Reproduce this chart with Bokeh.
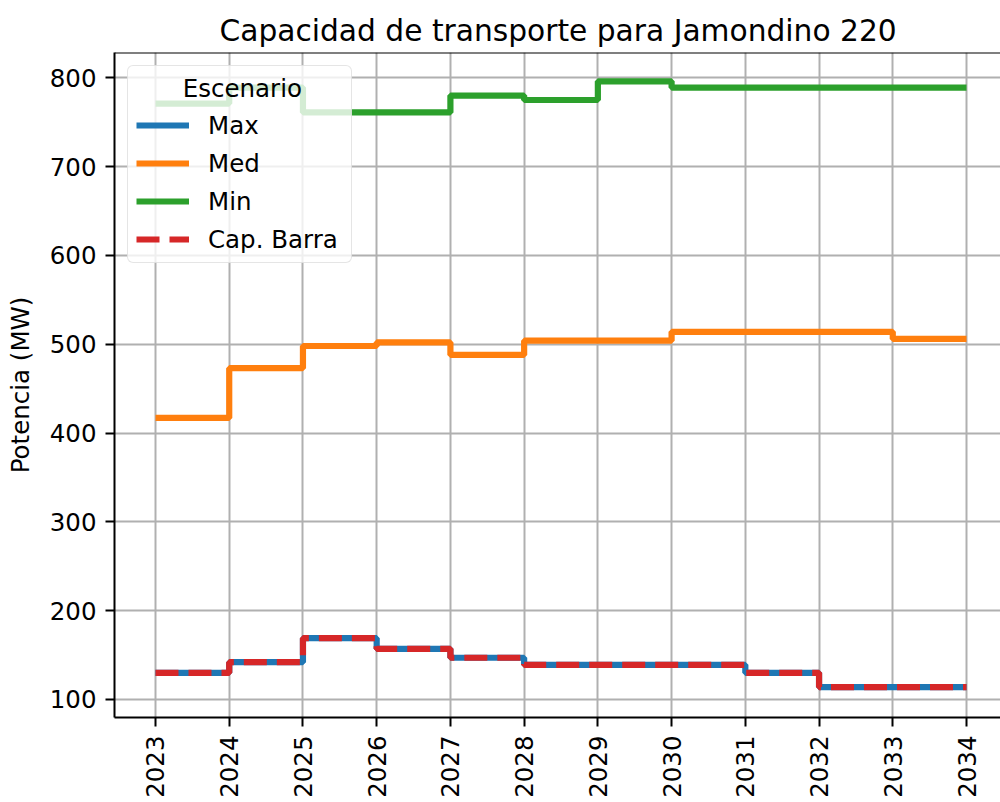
import math
from bokeh.plotting import figure
from bokeh.models import Range1d, FixedTicker, Span, Legend
from bokeh.embed import file_html
from bokeh.resources import INLINE

years = [2023, 2024, 2025, 2026, 2027, 2028, 2029, 2030, 2031, 2032, 2033, 2034]
max_vals = [130, 142, 169, 157, 147, 139, 139, 139, 130, 114, 114, 114]
med_vals = [417, 473, 498, 502, 488, 504, 504, 514, 514, 514, 506, 506]
min_vals = [771, 789, 761, 761, 780, 775, 796, 789, 789, 789, 789, 789]
cap_barra = [130, 142, 169, 157, 147, 139, 139, 139, 130, 114, 114, 114]
y_ticks = [100, 200, 300, 400, 500, 600, 700, 800]

FONT = "DejaVu Sans"
TXT = "#000000"
FS = "24.5px"

p = figure(width=1000, height=802, output_backend="svg", toolbar_location=None,
           x_range=Range1d(2022.444, 2034.461), y_range=Range1d(79.7, 828.5),
           min_border_left=114, min_border_right=0, min_border_top=52, min_border_bottom=85)

p.title.text = "Capacidad de transporte para Jamondino 220"
p.title.align = "left"
p.title.offset = 105
p.title.text_font = FONT
p.title.text_font_size = "29.7px"
p.title.text_font_style = "normal"
p.title.text_color = TXT
p.title.standoff = 10

p.outline_line_color = None
p.background_fill_color = "white"
p.border_fill_color = "white"

for ax in (p.xaxis[0], p.yaxis[0]):
    ax.axis_line_color = "black"
    ax.axis_line_width = 2
    ax.major_tick_line_color = "black"
    ax.major_tick_line_width = 2
    ax.major_tick_out = 9
    ax.major_tick_in = 0
    ax.minor_tick_out = 0
    ax.minor_tick_in = 0
    ax.major_label_text_font = FONT
    ax.major_label_text_font_size = FS
    ax.major_label_text_color = TXT
    ax.major_label_standoff = 9

p.xaxis.ticker = FixedTicker(ticks=years)
p.xaxis.major_label_orientation = math.pi / 2
p.yaxis.ticker = FixedTicker(ticks=y_ticks)
p.yaxis.axis_label = "Potencia (MW)"
p.yaxis.axis_label_text_font = FONT
p.yaxis.axis_label_text_font_size = FS
p.yaxis.axis_label_text_font_style = "normal"
p.yaxis.axis_label_text_color = TXT
p.yaxis.axis_label_standoff = 12

p.xgrid.ticker = FixedTicker(ticks=years)
p.ygrid.ticker = FixedTicker(ticks=y_ticks)
p.grid.grid_line_color = "#b0b0b0"
p.grid.grid_line_width = 2

LW = 6.2
r_max = p.step(years, max_vals, mode="after", line_color="#1f77b4", line_width=LW)
r_med = p.step(years, med_vals, mode="after", line_color="#ff7f0e", line_width=LW)
r_min = p.step(years, min_vals, mode="after", line_color="#2ca02c", line_width=LW)
r_cap = p.step(years, cap_barra, mode="after", line_color="#d62728", line_width=LW,
               line_dash="23 10")

p.add_layout(Span(location=828.5, dimension="width", line_color="black", line_width=2))

NB = "\u00a0"
legend = Legend(items=[("Max", [r_max]), ("Med", [r_med]), ("Min", [r_min]),
                       ("Cap. Barra", [r_cap])],
                location="top_left", title=NB * 6 + "Escenario")
legend.margin = 13
legend.padding = 8
legend.spacing = 8
legend.label_height = 30
legend.glyph_height = 30
legend.glyph_width = 53
legend.label_standoff = 19
legend.label_width = 135
legend.label_text_font = FONT
legend.label_text_font_size = FS
legend.label_text_color = TXT
legend.title_text_font = FONT
legend.title_text_font_size = FS
legend.title_text_font_style = "normal"
legend.title_text_color = TXT
legend.title_standoff = 7
legend.border_line_color = "#cccccc"
legend.border_line_width = 1.5
legend.background_fill_color = "white"
legend.background_fill_alpha = 0.8
try:
    legend.border_radius = 6
except Exception:
    pass
p.add_layout(legend)

open("out.html", "w").write(file_html(p, INLINE))
